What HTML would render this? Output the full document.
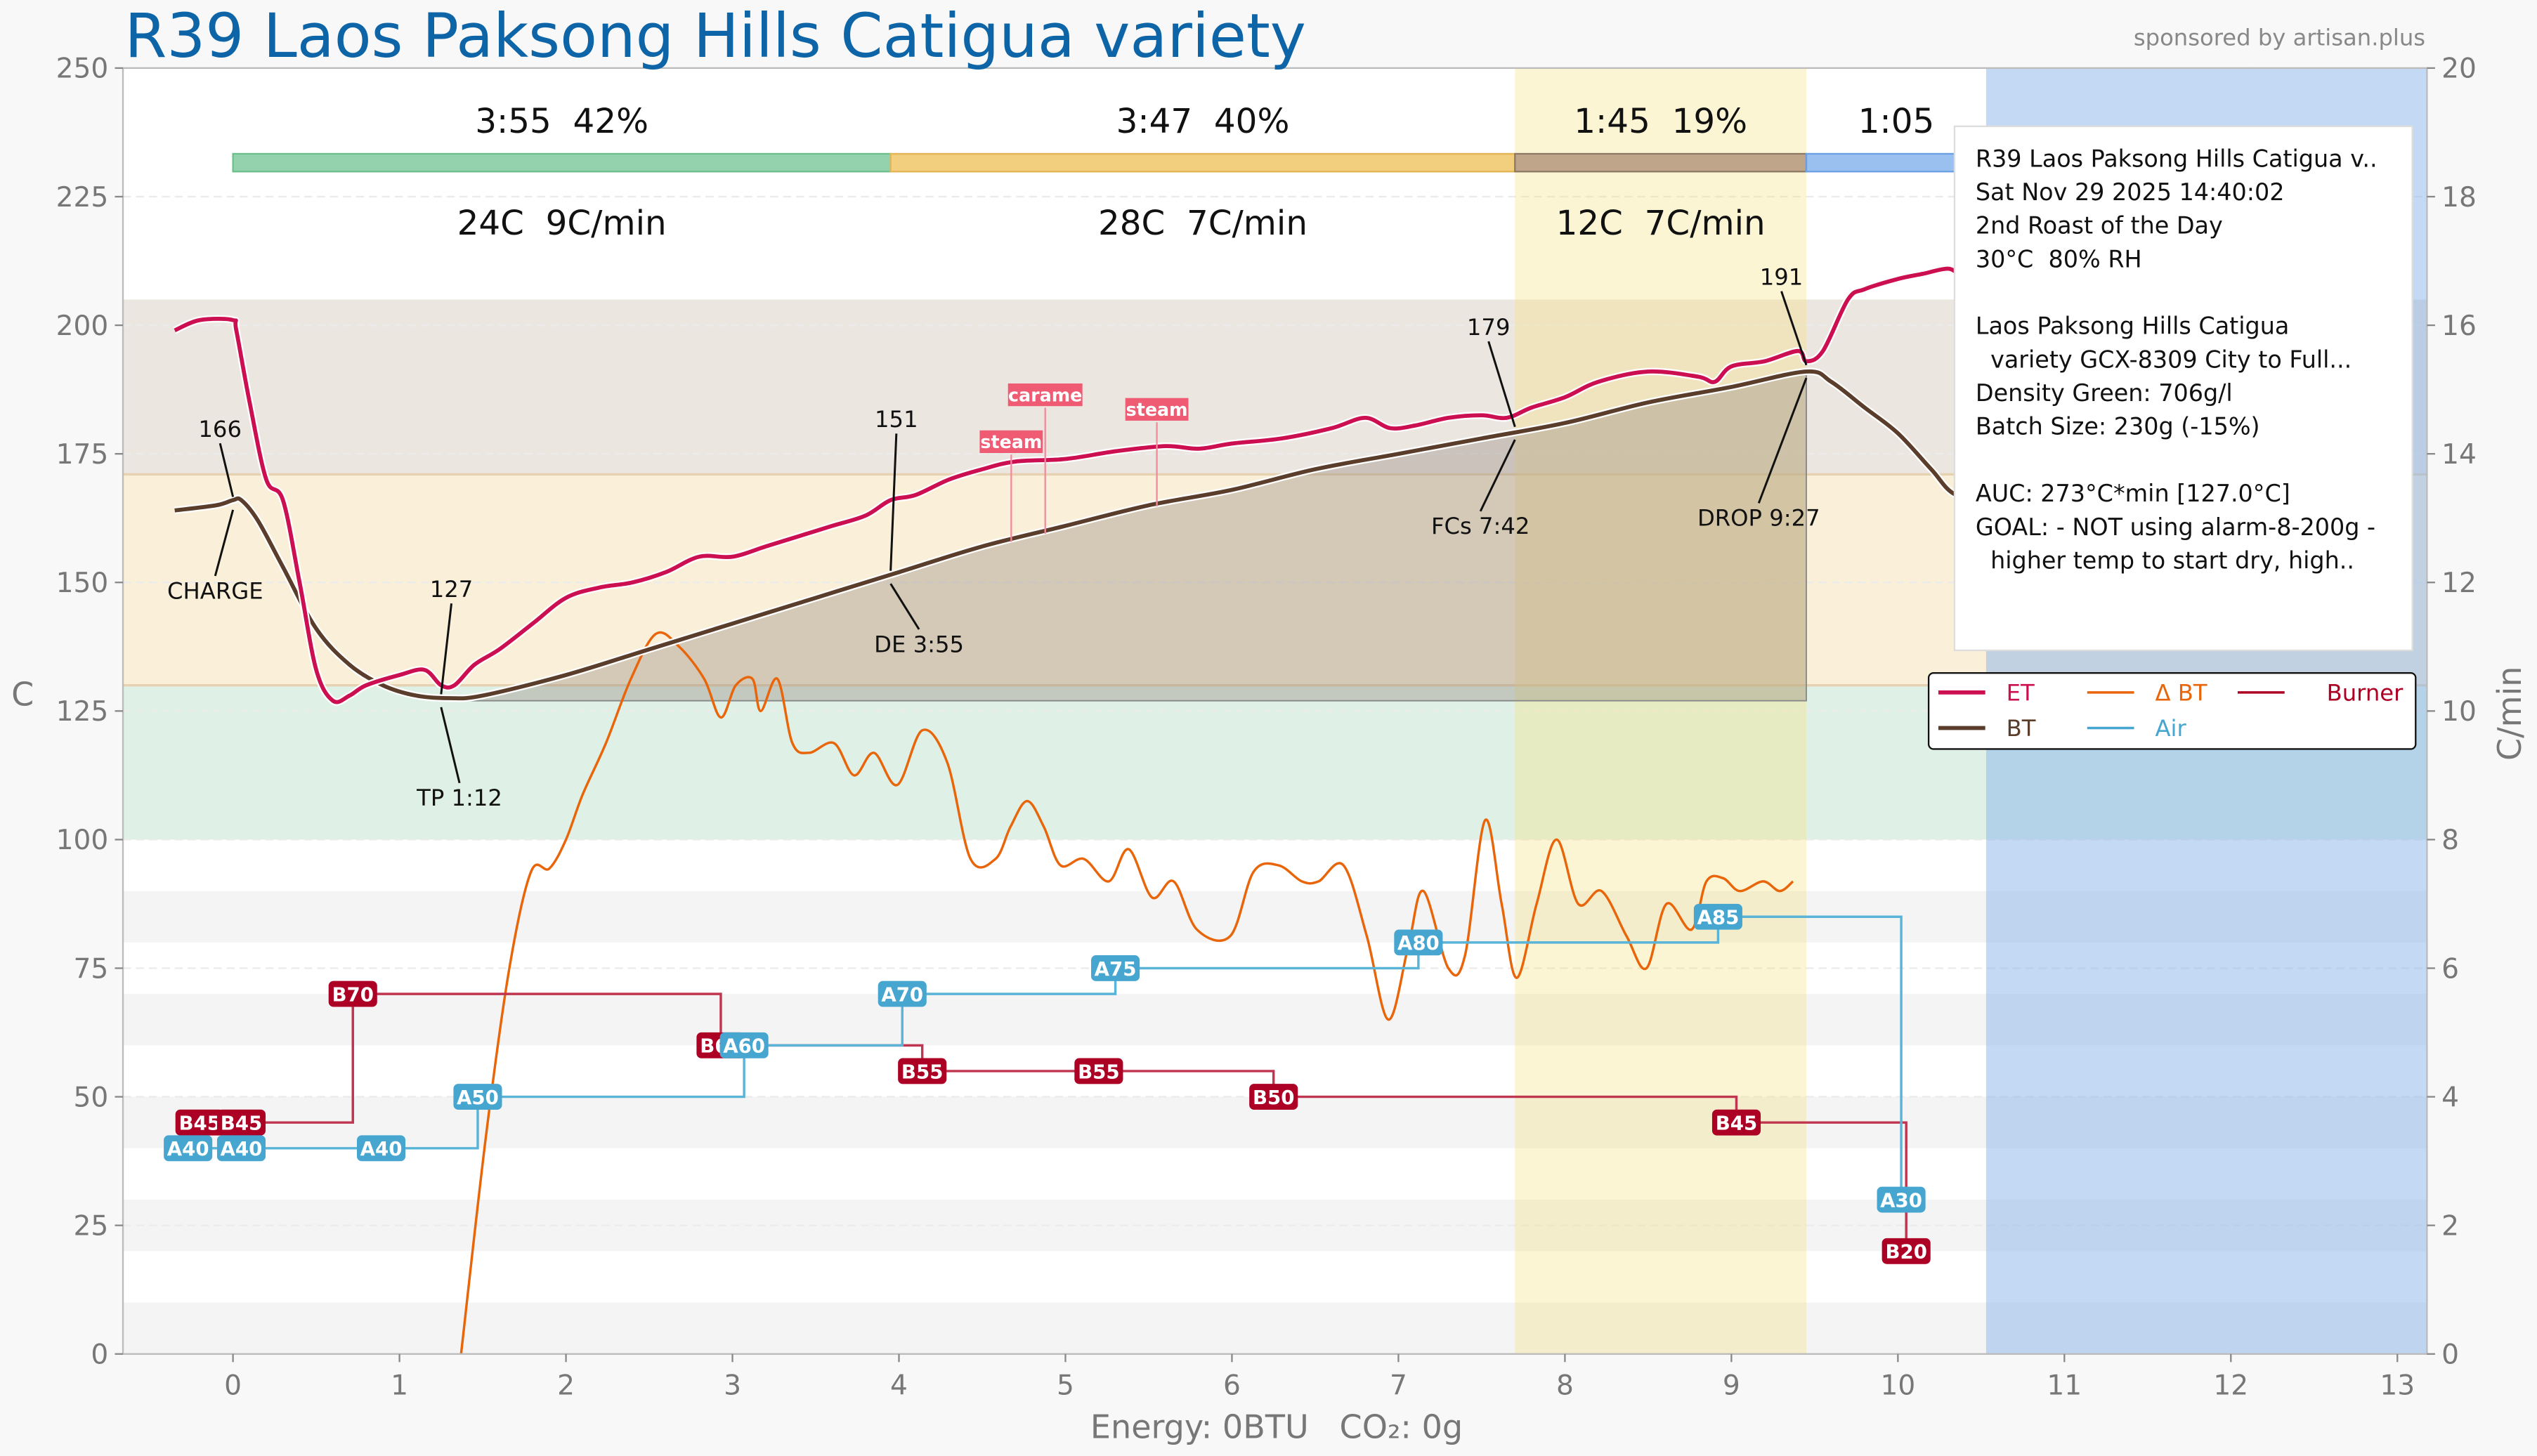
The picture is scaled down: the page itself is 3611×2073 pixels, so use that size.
<!DOCTYPE html>
<html><head><meta charset="utf-8"><style>
html,body{margin:0;padding:0;background:#f8f8f8;}
svg{display:block;font-family:"DejaVu Sans","Liberation Sans",sans-serif;}
text{white-space:pre;}
</style></head><body>
<svg id="chart" width="3611" height="2073" viewBox="0 0 1568 900" xmlns="http://www.w3.org/2000/svg" xml:space="preserve">
<rect x="0" y="0" width="1568" height="900" fill="#f8f8f8"/>
<g id="plot"></g>
</svg>
<script>
const etTime=[-0.35,-0.2,0,0.02,0.1,0.2,0.3,0.4,0.5,0.6,0.7,0.8,1.0,1.15,1.25,1.33,1.45,1.6,1.8,2.0,2.2,2.4,2.6,2.8,3.0,3.2,3.4,3.6,3.8,3.95,4.1,4.3,4.5,4.7,5.0,5.3,5.6,5.8,6.0,6.3,6.6,6.8,6.95,7.1,7.3,7.5,7.65,7.8,8.0,8.2,8.5,8.8,8.9,9.0,9.2,9.4,9.45,9.55,9.7,9.8,10.0,10.15,10.3,10.4,10.55];
const etTemp=[199,201,201,199,185,170,166,150,133,127,128,130,132,133,130,130,134,137,142,147,149,150,152,155,155,157,159,161,163,166,167,170,172,173.5,174,175.5,176.5,176,177,178,180,182,180,180.5,182,182.5,182,184,186,189,191,190,189,192,193,195,193,195,205,207,209,210,211,210,214];
const btTime=[-0.35,-0.1,0,0.05,0.15,0.3,0.5,0.7,0.9,1.1,1.3,1.5,2,2.5,3,3.5,4,4.5,5,5.5,6,6.5,7,7.5,8,8.5,9,9.45,9.6,9.8,10,10.2,10.35,10.6];
const btTemp=[164,165,166,166,162,153,141,134,130,128,127.5,128,132,137,142,147,152,157,161,165,168,172,175,178,181,185,188,191,189,184,179,172,167,166];
const rorTime=[1.37,1.52,1.66,1.79,1.90,2.00,2.10,2.24,2.39,2.54,2.68,2.83,2.93,3.02,3.12,3.17,3.27,3.36,3.46,3.61,3.73,3.85,3.99,4.14,4.29,4.43,4.58,4.67,4.77,4.87,4.97,5.11,5.26,5.38,5.52,5.65,5.79,5.99,6.13,6.28,6.42,6.52,6.67,6.81,6.94,7.06,7.15,7.30,7.40,7.52,7.62,7.71,7.83,7.95,8.08,8.22,8.37,8.49,8.61,8.76,8.85,8.95,9.05,9.19,9.29,9.37];
const rorVal=[0,3.4,6,7.5,7.55,8.0,8.7,9.5,10.5,11.2,11,10.5,9.9,10.4,10.5,10,10.5,9.5,9.35,9.5,9,9.35,8.85,9.7,9.2,7.7,7.7,8.2,8.6,8.2,7.6,7.7,7.35,7.85,7.1,7.35,6.6,6.5,7.5,7.6,7.35,7.35,7.6,6.5,5.2,6.35,7.2,6,6.2,8.3,7,5.85,7,8,7,7.2,6.5,6,7,6.6,7.35,7.4,7.2,7.35,7.2,7.35];
const burnerTime=[-0.2,0.05,0.72,2.93,4.14,5.2,6.25,9.03,10.05];
const burnerVal=[45,45,70,60,55,55,50,45,20];
const airTime=[-0.27,0.05,0.89,1.47,3.07,4.02,5.30,7.12,8.92,10.02];
const airVal=[40,40,40,50,60,70,75,80,85,30];
const yTicks=[0,25,50,75,100,125,150,175,200,225,250];
const y2Ticks=[0,2,4,6,8,10,12,14,16,18,20];
const xTicks=[0,1,2,3,4,5,6,7,8,9,10,11,12,13];
const phaseStart=[0,3.95,7.7,9.45];
const phaseEnd=[3.95,7.7,9.45,10.53];
const phaseTop=["3:55  42%","3:47  40%","1:45  19%","1:05"];
const phaseBottom=["24C  9C/min","28C  7C/min","12C  7C/min",""];

const L=76,R=1500,T=42,B=837;
const X=t=>144+t*102.9;
const Y=c=>B-(c/250)*(B-T);
const Y2=r=>B-(r/20)*(B-T);
const NS="http://www.w3.org/2000/svg";
const g=document.getElementById('plot');
function el(tag,attrs,parent){const e=document.createElementNS(NS,tag);for(const k in attrs)e.setAttribute(k,attrs[k]);(parent||g).appendChild(e);return e;}
function txt(s,attrs,parent){const e=el('text',attrs,parent);e.textContent=s;return e;}
function smooth(pts){let d='M'+pts[0][0]+','+pts[0][1];for(let i=0;i<pts.length-1;i++){const p0=pts[i-1]||pts[i],p1=pts[i],p2=pts[i+1],p3=pts[i+2]||p2;const c1x=p1[0]+(p2[0]-p0[0])/6,c1y=p1[1]+(p2[1]-p0[1])/6,c2x=p2[0]-(p3[0]-p1[0])/6,c2y=p2[1]-(p3[1]-p1[1])/6;d+=` C${c1x},${c1y} ${c2x},${c2y} ${p2[0]},${p2[1]}`;}return d;}

let e=el('rect',{x:L,y:T,width:R-L,height:B-T,fill:'#ffffff'});

[0,20,40,60,80].forEach(v=>{const s=el('rect',{x:L,y:Y(v+10),width:R-L,height:Y(v)-Y(v+10),fill:'#f4f4f4'});});
[[100,130,'#dff0e6'],[130,171,'#faefd9'],[171,205,'#ece6e0']].forEach(z=>{const s=el('rect',{x:L,y:Y(z[1]),width:R-L,height:Y(z[0])-Y(z[1]),fill:z[2]});});
[171,130].forEach(v=>{const s=el('line',{x1:L,x2:R,y1:Y(v),y2:Y(v),stroke:'#e6d2b0','stroke-width':1.5});});
yTicks.forEach(v=>{const s=el('line',{x1:L,x2:R,y1:Y(v),y2:Y(v),stroke:'#ebebeb','stroke-width':1,'stroke-dasharray':'5,3'});});
e=el('rect',{x:X(7.7),y:T,width:X(9.45)-X(7.7),height:B-T,fill:'#f6e27a','fill-opacity':0.33});

e=el('rect',{x:X(10.53),y:T,width:R-X(10.53),height:B-T,fill:'#8ab4ea','fill-opacity':0.5});

let pts=[];for(let i=0;i<btTime.length;i++){if(btTime[i]>=1.25&&btTime[i]<=9.45)pts.push([X(btTime[i]),Y(btTemp[i])]);}
let d=smooth(pts)+` L${X(9.45)},${Y(127)} L${X(1.25)},${Y(127)} Z`;
e=el('path',{d:d,fill:'#9a8f84','fill-opacity':0.4,stroke:'#888','stroke-width':0.8});


const pc=['#94d2ae','#f2cf7e','#bfa58a','#9ac0ef'],ps=['#6cbf8d','#e3b454','#8d7a66','#6a9fe3'];
for(let i=0;i<phaseStart.length;i++){
 const b=el('rect',{x:X(phaseStart[i]),y:95,width:X(phaseEnd[i])-X(phaseStart[i]),height:11,fill:pc[i],stroke:ps[i],'stroke-width':1});
 
 const cx=(X(phaseStart[i])+X(phaseEnd[i]))/2;
 const t1=txt(phaseTop[i],{x:cx,y:82,'font-size':21,'text-anchor':'middle',fill:'#111'});
 
 const t2=txt(phaseBottom[i],{x:cx,y:145,'font-size':21,'text-anchor':'middle',fill:'#111'});
 
}

pts=rorTime.map((t,i)=>[X(t),Y2(rorVal[i])]);
e=el('path',{d:smooth(pts),fill:'none',stroke:'#e8650a','stroke-width':1.5});

d='';for(let i=0;i<burnerTime.length;i++){const x=X(burnerTime[i]),y=Y(burnerVal[i]);if(i==0)d='M'+x+','+y;else d+=` L${x},${Y(burnerVal[i-1])} L${x},${y}`;}
e=el('path',{d:d,fill:'none',stroke:'#c03550','stroke-width':1.5});

d='';for(let i=0;i<airTime.length;i++){const x=X(airTime[i]),y=Y(airVal[i]);if(i==0)d='M'+x+','+y;else d+=` L${x},${Y(airVal[i-1])} L${x},${y}`;}
e=el('path',{d:d,fill:'none',stroke:'#5ab4d8','stroke-width':1.5});


pts=btTime.map((t,i)=>[X(t),Y(btTemp[i])]);
e=el('path',{d:smooth(pts),fill:'none',stroke:'#fff','stroke-width':4.5});

e=el('path',{d:smooth(pts),fill:'none',stroke:'#5a3d2a','stroke-width':2.5});

pts=etTime.map((t,i)=>[X(t),Y(etTemp[i])]);
e=el('path',{d:smooth(pts),fill:'none',stroke:'#fff','stroke-width':4.5});

e=el('path',{d:smooth(pts),fill:'none',stroke:'#cc0f50','stroke-width':2.5});


function tag(label,t,v,color,name){
 const x=X(t),y=Y(v),w=label.length*8+6;
 const r=el('rect',{x:x-w/2,y:y-8,width:w,height:16,rx:3,fill:color});
 
 const s=txt(label,{x:x,y:y+4.5,'font-size':12,'font-weight':'bold','text-anchor':'middle',fill:'#fff'});
 
}
burnerTime.forEach((t,i)=>tag('B'+burnerVal[i],t,burnerVal[i],'#ad0025','burner-tag'));
airTime.forEach((t,i)=>tag('A'+airVal[i],t,airVal[i],'#46a6d0','air-tag'));

function ann(label,px,py,tx,ty,name){
 const l=el('line',{x1:px,y1:py,x2:tx,y2:ty-(ty>py?14:-4),stroke:'#111','stroke-width':1.3});
 
 const s=txt(label,{x:tx,y:ty,'font-size':14,'text-anchor':'middle',fill:'#111'});
 
}
ann('166',X(0),Y(166)-2,136,270,'charge-temp-label');
ann('CHARGE',X(0),Y(166)+6,133,370,'charge-label');
ann('127',X(1.25),Y(127)-4,279,369,'tp-temp-label');
ann('TP 1:12',X(1.25),Y(127)+4,284,498,'tp-label');
ann('151',X(3.95),Y(151)-4,554,264,'de-temp-label');
ann('DE 3:55',X(3.95),Y(151)+4,568,403,'de-label');
ann('179',X(7.7),Y(179)-4,920,207,'fc-temp-label');
ann('FCs 7:42',X(7.7),Y(179)+4,915,330,'fc-label');
ann('191',X(9.45),Y(191)-4,1101,176,'drop-temp-label');
ann('DROP 9:27',X(9.45),Y(191)+4,1087,325,'drop-label');

function ev(label,x,y,lineTo,name){
 const l=el('line',{x1:x,y1:y+8,x2:x,y2:lineTo,stroke:'#f28a9b','stroke-width':1});
 
 const w=label.length*7+4;
 const r=el('rect',{x:x-w/2,y:y-7,width:w,height:14,fill:'#ee5b73'});
 
 const s=txt(label,{x:x,y:y+4,'font-size':11,'font-weight':'bold','text-anchor':'middle',fill:'#fff'});
 
}
ev('steam',625,273,335,'event-steam-1');
ev('carame',646,244,330,'event-carame');
ev('steam',715,253,313,'event-steam-2');

e=el('rect',{x:L,y:T,width:R-L,height:B-T,fill:'none',stroke:'#bbb','stroke-width':1});

yTicks.forEach(v=>{const l=el('line',{x1:L-5,x2:L,y1:Y(v),y2:Y(v),stroke:'#888'});
 const s=txt(String(v),{x:L-9,y:Y(v)+6,'font-size':17,'text-anchor':'end',fill:'#777'});});
y2Ticks.forEach(v=>{const l=el('line',{x1:R,x2:R+5,y1:Y2(v),y2:Y2(v),stroke:'#888'});
 const s=txt(String(v),{x:R+9,y:Y2(v)+6,'font-size':17,'text-anchor':'start',fill:'#777'});});
xTicks.forEach(v=>{const l=el('line',{x1:X(v),x2:X(v),y1:B,y2:B+5,stroke:'#888'});
 const s=txt(String(v),{x:X(v),y:B+25,'font-size':17,'text-anchor':'middle',fill:'#777'});});

e=el('rect',{x:1208,y:78,width:283,height:324,fill:'#fff',stroke:'#ddd','stroke-width':1});

const info=["R39 Laos Paksong Hills Catigua v..","Sat Nov 29 2025 14:40:02","2nd Roast of the Day","30°C  80% RH","","Laos Paksong Hills Catigua","  variety GCX-8309 City to Full...","Density Green: 706g/l","Batch Size: 230g (-15%)","","AUC: 273°C*min [127.0°C]","GOAL: - NOT using alarm-8-200g -","  higher temp to start dry, high.."];
info.forEach((s,i)=>{const t=txt(s,{x:1221,y:103+i*20.7,'font-size':14.5,fill:'#111'});});

e=el('rect',{x:1192,y:416,width:301,height:47,rx:3,fill:'#fff',stroke:'#111','stroke-width':1});

[['ET','#cc0f50',1198,1240,428,2.5],['BT','#5a3d2a',1198,1240,450,2.5],['Δ BT','#e8650a',1290,1332,428,1.5],['Air','#46a6d0',1290,1332,450,1.5],['Burner','#ad0025',1383,1438,428,1.5]].forEach(a=>{
 const l=el('line',{x1:a[2],x2:a[2]+29,y1:a[4],y2:a[4],stroke:a[1],'stroke-width':a[5]});
 const t=txt(a[0],{x:a[3],y:a[4]+5,'font-size':14,fill:a[1]});});

e=txt('R39 Laos Paksong Hills Catigua variety',{x:77,y:35,'font-size':37.5,fill:'#0d64a6'});

e=txt('sponsored by artisan.plus',{x:1499,y:28,'font-size':14,'text-anchor':'end',fill:'#888'});

e=txt('Energy: 0BTU   CO₂: 0g',{x:789,y:889,'font-size':20,'text-anchor':'middle',fill:'#777'});

e=txt('C',{x:14,y:436,'font-size':20,'text-anchor':'middle',fill:'#777'});

e=txt('C/min',{x:0,y:0,'font-size':20,'text-anchor':'middle',fill:'#777',transform:'translate(1558,441) rotate(-90)'});

</script>
</body></html>
